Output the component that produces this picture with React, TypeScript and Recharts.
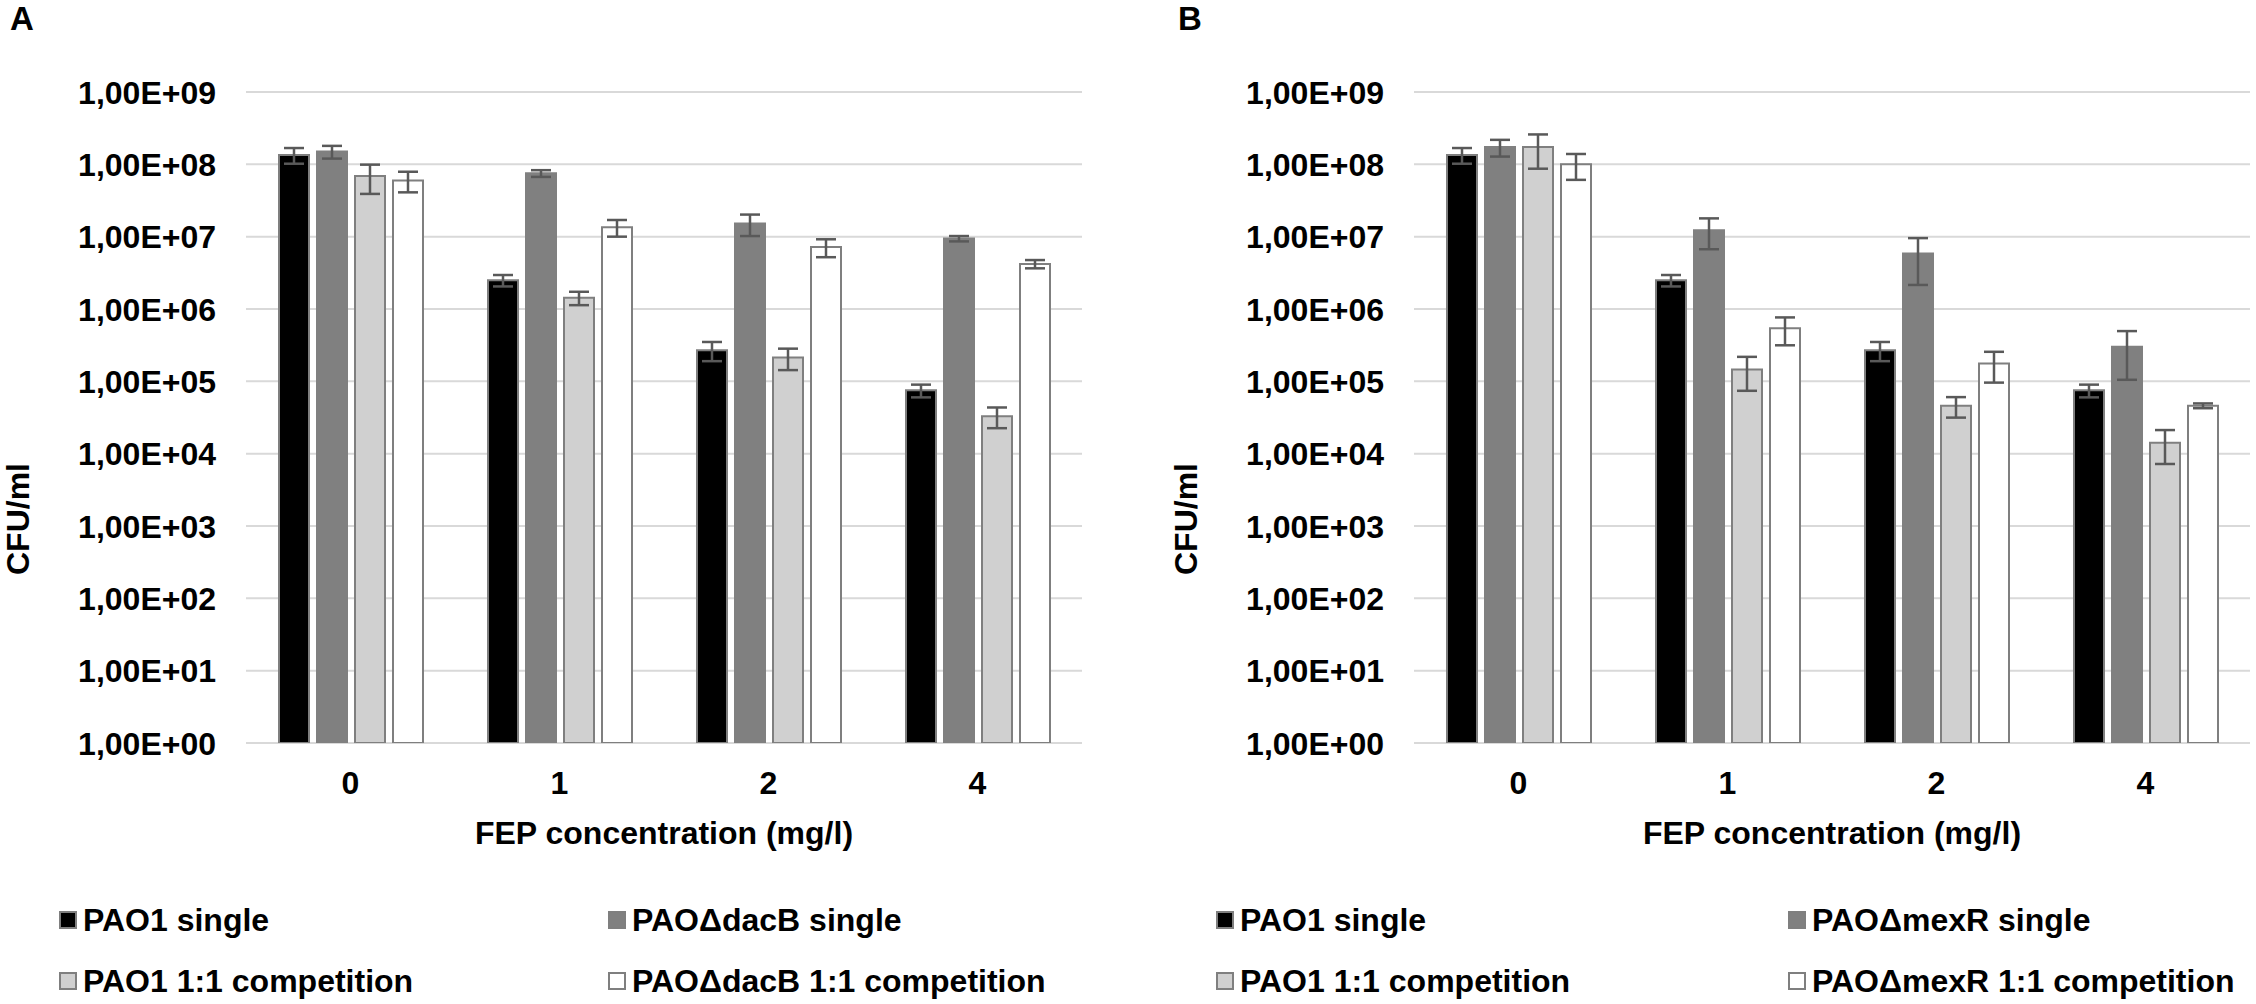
import React from 'react';
import { Bar, BarChart, CartesianGrid, ErrorBar, Label, XAxis, YAxis } from 'recharts';

// FEP concentration groups
const concentrations = ['0', '1', '2', '4'];
const yTicks = [1, 1e1, 1e2, 1e3, 1e4, 1e5, 1e6, 1e7, 1e8, 1e9];

// Panel A
const pao1SingleA = [1.35e8, 2.5e6, 2.7e5, 7.5e4];
const pao1SingleErrA = [3.3e7, 4.5e5, 8e4, 1.5e4];
const dacBSingle = [1.5e8, 7.5e7, 1.52e7, 9.4e6];
const dacBSingleErr = [3e7, 8e6, 5e6, 8e5];
const pao1CompA = [6.9e7, 1.43e6, 2.13e5, 3.3e4];
const pao1CompErrA = [3e7, 3e5, 7e4, 1.05e4];
const dacBComp = [6.0e7, 1.35e7, 7.2e6, 4.2e6];
const dacBCompErr = [1.9e7, 3.5e6, 2e6, 5.5e5];

// Panel B
const pao1SingleB = [1.35e8, 2.5e6, 2.7e5, 7.5e4];
const pao1SingleErrB = [3.3e7, 4.5e5, 8e4, 1.5e4];
const mexRSingle = [1.73e8, 1.23e7, 5.85e6, 3.0e5];
const mexRSingleErr = [4.5e7, 5.6e6, 3.7e6, 1.95e5];
const pao1CompB = [1.73e8, 1.46e5, 4.6e4, 1.42e4];
const pao1CompErrB = [8.6e7, 7.2e4, 1.45e4, 7e3];
const mexRComp = [1.0e8, 5.4e5, 1.76e5, 4.6e4];
const mexRCompErr = [3.9e7, 2.25e5, 8e4, 3.5e3];

const FONT = "'Liberation Sans', Arial, sans-serif";
const PLOT_TOP = 92;
const PLOT_BOTTOM = 743;
const CHART_W = 1128;
const CHART_H = 870;

const COLORS = ['#000000', '#808080', '#d0d0d0', '#ffffff'];
const BORDER = '#7f7f7f';
const ERR = '#595959';

function buildRows(s1: number[], e1: number[], s2: number[], e2: number[], c1: number[], ce1: number[], c2: number[], ce2: number[]) {
  return concentrations.map((c, i) => ({
    conc: c,
    s1: s1[i],
    e1: e1[i],
    s2: s2[i],
    e2: e2[i],
    c1: c1[i],
    ce1: ce1[i],
    c2: c2[i],
    ce2: ce2[i],
  }));
}

function formatTick(v: number) {
  const exp = Math.round(Math.log10(v));
  return `1,00E+${exp.toString().padStart(2, '0')}`;
}

interface PanelProps {
  rows: ReturnType<typeof buildRows>;
  yAxisWidth: number;
  rightMargin: number;
  yTitleX: number;
}

function Panel({ rows, yAxisWidth, rightMargin, yTitleX }: PanelProps) {
  const plotLeft = yAxisWidth;
  const plotCenter = (plotLeft + CHART_W - rightMargin) / 2;
  const yTitleY = 519;

  const YTick = (props: any) => (
    <text
      x={plotLeft - 30}
      y={props.y}
      dy="0.36em"
      textAnchor="end"
      fontFamily={FONT}
      fontWeight={700}
      fontSize={32}
      fill="#000"
    >
      {formatTick(props.payload.value)}
    </text>
  );

  const XTick = (props: any) => (
    <text
      x={props.x}
      y={PLOT_BOTTOM + 50.5}
      textAnchor="middle"
      fontFamily={FONT}
      fontWeight={700}
      fontSize={32}
      fill="#000"
    >
      {props.payload.value}
    </text>
  );

  const keys = [
    ['s1', 'e1'],
    ['s2', 'e2'],
    ['c1', 'ce1'],
    ['c2', 'ce2'],
  ];

  return (
    <BarChart
      width={CHART_W}
      height={CHART_H}
      data={rows}
      margin={{ top: PLOT_TOP, right: rightMargin, left: 0, bottom: 0 }}
      barGap={8}
      barCategoryGap={33}
    >
      <CartesianGrid vertical={false} stroke="#d9d9d9" strokeWidth={2} />
      <XAxis
        dataKey="conc"
        axisLine={false}
        tickLine={false}
        height={CHART_H - PLOT_BOTTOM}
        tick={<XTick />}
        interval={0}
      >
        <Label
          content={() => (
            <text
              x={plotCenter}
              y={843.5}
              textAnchor="middle"
              fontFamily={FONT}
              fontWeight={700}
              fontSize={32}
              fill="#000"
            >
              FEP concentration (mg/l)
            </text>
          )}
        />
      </XAxis>
      <YAxis
        type="number"
        scale="log"
        domain={[1, 1e9]}
        ticks={yTicks}
        allowDataOverflow
        axisLine={false}
        tickLine={false}
        width={yAxisWidth}
        tick={<YTick />}
        interval={0}
      >
        <Label
          content={() => (
            <text
              x={yTitleX}
              y={yTitleY}
              dy="0.36em"
              transform={`rotate(-90 ${yTitleX} ${yTitleY})`}
              textAnchor="middle"
              fontFamily={FONT}
              fontWeight={700}
              fontSize={32}
              fill="#000"
            >
              CFU/ml
            </text>
          )}
        />
      </YAxis>
      {keys.map(([k, e], i) => (
        <Bar
          key={k}
          dataKey={k}
          fill={COLORS[i]}
          stroke={i === 1 ? COLORS[1] : BORDER}
          strokeWidth={2}
          isAnimationActive={false}
        >
          <ErrorBar dataKey={e} width={10} stroke={ERR} strokeWidth={2.5} direction="y" />
        </Bar>
      ))}
    </BarChart>
  );
}

interface LegendProps {
  left: number;
  col2: number;
  labels: string[];
}

function LegendBlock({ left, col2, labels }: LegendProps) {
  const rowsY = [920, 981];
  const positions = [
    [left, rowsY[0]],
    [col2, rowsY[0]],
    [left, rowsY[1]],
    [col2, rowsY[1]],
  ];
  return (
    <>
      {labels.map((lab, i) => (
        <div
          key={lab}
          style={{
            position: 'absolute',
            left: positions[i][0],
            top: positions[i][1] - 18,
            height: 36,
            lineHeight: '36px',
            display: 'flex',
            alignItems: 'center',
            whiteSpace: 'nowrap',
            fontFamily: FONT,
            fontWeight: 700,
            fontSize: 32,
            color: '#000',
          }}
        >
          <span
            style={{
              display: 'inline-block',
              width: 18,
              height: 18,
              boxSizing: 'border-box',
              background: COLORS[i === 1 ? 1 : i === 2 ? 2 : i === 3 ? 3 : 0],
              border: `2px solid ${BORDER}`,
              marginRight: 6,
            }}
          />
          <span>{lab}</span>
        </div>
      ))}
    </>
  );
}

export default function App() {
  const rowsA = buildRows(pao1SingleA, pao1SingleErrA, dacBSingle, dacBSingleErr, pao1CompA, pao1CompErrA, dacBComp, dacBCompErr);
  const rowsB = buildRows(pao1SingleB, pao1SingleErrB, mexRSingle, mexRSingleErr, pao1CompB, pao1CompErrB, mexRComp, mexRCompErr);

  const letterStyle: React.CSSProperties = {
    position: 'absolute',
    top: 0,
    fontFamily: FONT,
    fontWeight: 700,
    fontSize: 33,
    lineHeight: '38px',
    color: '#000',
  };

  return (
    <div
      style={{
        position: 'absolute',
        left: 0,
        top: 0,
        width: 2256,
        height: 1004,
        background: '#fff',
        overflow: 'hidden',
      }}
    >
      <div style={{ ...letterStyle, left: 10 }}>A</div>
      <div style={{ ...letterStyle, left: 1178 }}>B</div>
      <div style={{ position: 'absolute', left: 0, top: 0 }}>
        <Panel rows={rowsA} yAxisWidth={246} rightMargin={46} yTitleX={17} />
      </div>
      <div style={{ position: 'absolute', left: 1128, top: 0 }}>
        <Panel rows={rowsB} yAxisWidth={286} rightMargin={6} yTitleX={57} />
      </div>
      <LegendBlock
        left={59}
        col2={608}
        labels={['PAO1 single', 'PAO\u0394dacB single', 'PAO1 1:1 competition', 'PAO\u0394dacB 1:1 competition']}
      />
      <LegendBlock
        left={1216}
        col2={1788}
        labels={['PAO1 single', 'PAO\u0394mexR single', 'PAO1 1:1 competition', 'PAO\u0394mexR 1:1 competition']}
      />
    </div>
  );
}
